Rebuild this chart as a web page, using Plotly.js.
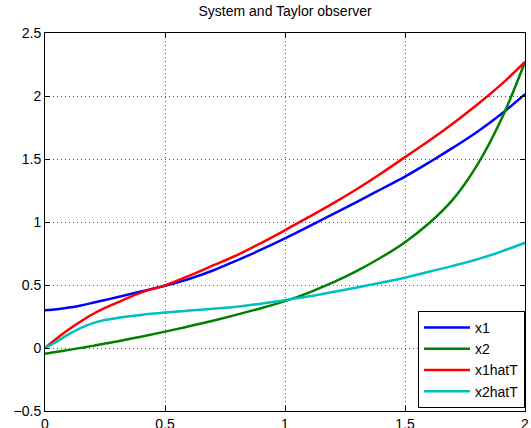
<!DOCTYPE html>
<html>
<head>
<meta charset="utf-8">
<script src="https://cdn.plot.ly/plotly-3.0.1.min.js"></script>
<style>
html,body{margin:0;padding:0;background:#fff;}
#chart{width:531px;height:428px;}
</style>
</head>
<body>
<div id="chart"></div>
<script>
var t      = [0,    0.05,  0.1,   0.15,  0.2,   0.25,  0.3,   0.4,   0.5,   0.6,   0.7,   0.8,   0.9,   1.0,   1.1,   1.2,   1.3,   1.4,   1.5,   1.6,   1.7,   1.8,   1.9,   2.0];
var x1     = [0.30, 0.308, 0.321, 0.338, 0.359, 0.381, 0.403, 0.449, 0.494, 0.548, 0.615, 0.695, 0.78,  0.87,  0.965, 1.062, 1.16,  1.26,  1.36,  1.472, 1.59,  1.715, 1.855, 2.015];
var x2     = [-0.045,-0.03,-0.015, 0.001, 0.017, 0.035, 0.052, 0.09,  0.13,  0.172, 0.217, 0.265, 0.316, 0.372, 0.44,  0.52,  0.612, 0.718, 0.84,  0.99,  1.18,  1.45,  1.81,  2.27];
var x1hatT = [0,    0.077, 0.148, 0.212, 0.27,  0.318, 0.36,  0.44,  0.497, 0.573, 0.655, 0.737, 0.833, 0.935, 1.04,  1.148, 1.262, 1.385, 1.515, 1.645, 1.782, 1.93,  2.09,  2.27];
var x2hatT = [0,    0.052, 0.11,  0.16,  0.197, 0.222, 0.238, 0.262, 0.281, 0.297, 0.312, 0.328, 0.352, 0.38,  0.41,  0.445, 0.48,  0.518, 0.558, 0.605, 0.652, 0.703, 0.765, 0.835];
var names = ['x1','x2','x1hatT','x2hatT'];
var colors = ['#0000ff','#008000','#ff0000','#00bfbf'];
var series = [x1, x2, x1hatT, x2hatT];
var xTicks = [0,0.5,1,1.5,2];
var yTicks = [-0.5,0,0.5,1,1.5,2,2.5];

var traces = series.map(function(s,i){
  return {x:t, y:s, name:names[i], type:'scatter', mode:'lines',
    line:{color:colors[i], width:2.5, shape:'spline', smoothing:1}};
});

var axisCommon = {
  showline:true, linecolor:'#000', linewidth:1, mirror:'ticks',
  ticks:'inside', ticklen:5, tickcolor:'#000', tickwidth:1,
  showgrid:true, gridcolor:'#555', griddash:'1px,3px', gridwidth:1,
  zeroline:false, tickfont:{family:'Liberation Sans, Arial, sans-serif', size:14, color:'#000'}
};

var layout = {
  width:531, height:428,
  margin:{l:45, r:6, t:33, b:17},
  paper_bgcolor:'#fff', plot_bgcolor:'#fff',
  title:{text:'System and Taylor observer', x:0.537, xanchor:'center', y:0.985, yanchor:'top',
    font:{family:'Liberation Sans, Arial, sans-serif', size:14, color:'#000'}},
  xaxis:Object.assign({}, axisCommon, {range:[0,2], tickvals:xTicks, ticktext:xTicks.map(String)}),
  yaxis:Object.assign({}, axisCommon, {range:[-0.5,2.5], tickvals:yTicks,
    ticktext:yTicks.map(function(v){return v<0 ? '\u2212'+String(-v) : String(v);})}),
  showlegend:true,
  legend:{x:1, xanchor:'right', y:0.008, yanchor:'bottom', bgcolor:'#fff',
    bordercolor:'#000', borderwidth:1, itemwidth:46, tracegroupgap:0,
    font:{family:'Liberation Sans, Arial, sans-serif', size:14, color:'#000'}}
};

Plotly.newPlot('chart', traces, layout, {displayModeBar:false, staticPlot:true});
</script>
</body>
</html>
